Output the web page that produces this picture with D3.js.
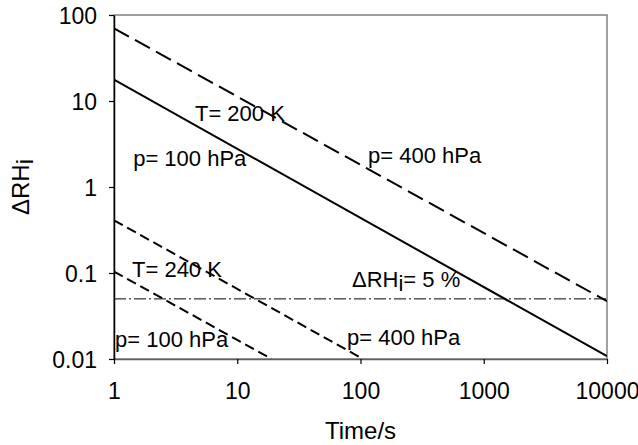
<!DOCTYPE html>
<html>
<head>
<meta charset="utf-8">
<script src="https://cdn.jsdelivr.net/npm/d3@7"></script>
<style>
  html, body { margin: 0; padding: 0; background: #fff; }
  svg { display: block; font-family: "Liberation Sans", Arial, sans-serif; }
</style>
</head>
<body>
<svg id="chart" width="638" height="445"></svg>
<script>
// ---- data ----
const xTicks = [1, 10, 100, 1000, 10000];
const xTickLabels = ["1", "10", "100", "1000", "10000"];
const yTicks = [0.01, 0.1, 1, 10, 100];
const yTickLabels = ["0.01", "0.1", "1", "10", "100"];

const timeT200P400 = [1, 10000];
const rhT200P400 = [70, 0.047];
const timeT200P100 = [1, 10000];
const rhT200P100 = [17.7, 0.0108];
const timeT240P400 = [1, 105];
const rhT240P400 = [0.41, 0.01];
const timeT240P100 = [1, 19];
const rhT240P100 = [0.104, 0.01];
const thresholdRH = 0.05;

const annotationTexts = ["T= 200 K", "p= 100 hPa", "p= 400 hPa", "T= 240 K", "p= 100 hPa", "p= 400 hPa"];
const annotationTimes = [4.54, 1.43, 115, 1.40, 1.02, 77.7];
const annotationRH = [5.85, 1.75, 1.90, 0.0898, 0.0138, 0.01455];
const thresholdLabelTime = 85.3;
const thresholdLabelRH = 0.0687;

// ---- layout ----
(function () {
const svg = d3.select("#chart");
const mLeft = 114, mRight = 607, mTop = 15, mBottom = 359;
const x = d3.scaleLog().domain([1, 10000]).range([mLeft, mRight]);
const y = d3.scaleLog().domain([0.01, 100]).range([mBottom, mTop]);

svg.append("rect").attr("width", 638).attr("height", 445).attr("fill", "#fff");

svg.append("defs").append("clipPath").attr("id", "clip")
  .append("rect").attr("x", mLeft).attr("y", mTop).attr("width", mRight - mLeft).attr("height", mBottom - mTop);

// frame
svg.append("rect").attr("x", mLeft).attr("y", mTop).attr("width", mRight - mLeft).attr("height", mBottom - mTop)
  .attr("fill", "none").attr("stroke", "#808080").attr("stroke-width", 1.5);

// axes
const xAxis = d3.axisBottom(x).tickValues(xTicks)
  .tickFormat((d, i) => xTickLabels[i]).tickSizeInner(5).tickSizeOuter(0);
const gx = svg.append("g").attr("transform", `translate(0,${mBottom})`).call(xAxis);
gx.select(".domain").attr("stroke", "#606060").attr("stroke-width", 1.5);
gx.selectAll(".tick line").attr("stroke", "#000").attr("stroke-width", 1.2);
gx.selectAll(".tick text").attr("y", 40).attr("dy", 0)
  .style("font-size", "23px").attr("fill", "#000")
  .style("font-family", "'Liberation Sans', Arial, sans-serif");

const yAxis = d3.axisLeft(y).tickValues(yTicks)
  .tickFormat((d, i) => yTickLabels[i]).tickSizeInner(5).tickSizeOuter(0).tickPadding(12);
const gy = svg.append("g").attr("transform", `translate(${mLeft},0)`).call(yAxis);
gy.select(".domain").attr("stroke", "#000").attr("stroke-width", 1.5);
gy.selectAll(".tick line").attr("stroke", "#000").attr("stroke-width", 1.2);
gy.selectAll(".tick text").attr("dy", "0.36em")
  .style("font-size", "23px").attr("fill", "#000")
  .style("font-family", "'Liberation Sans', Arial, sans-serif");

// axis titles
svg.append("text").attr("x", (mLeft + mRight) / 2).attr("y", 439)
  .attr("text-anchor", "middle").style("font-size", "24px").text("Time/s");

const ylab = svg.append("text")
  .attr("transform", `translate(29,${(mTop + mBottom) / 2}) rotate(-90)`)
  .attr("text-anchor", "middle").style("font-size", "24px");
ylab.append("tspan").text("\u0394RH");
ylab.append("tspan").attr("dy", 4).text("i");

// lines
const line = d3.line().x(d => x(d[0])).y(d => y(d[1]));
const plot = svg.append("g").attr("clip-path", "url(#clip)");

const seriesList = [
  { t: timeT200P400, v: rhT200P400, dash: "17,7", w: 2 },
  { t: timeT200P100, v: rhT200P100, dash: null, w: 2 },
  { t: timeT240P400, v: rhT240P400, dash: "10,5", w: 2 },
  { t: timeT240P100, v: rhT240P100, dash: "10,5", w: 2 }
];
seriesList.forEach(s => {
  plot.append("path")
    .datum(s.t.map((t, i) => [t, s.v[i]]))
    .attr("d", line)
    .attr("fill", "none")
    .attr("stroke", "#000")
    .attr("stroke-width", s.w)
    .attr("stroke-dasharray", s.dash);
});

// threshold line
plot.append("path")
  .datum([[1, thresholdRH], [10000, thresholdRH]])
  .attr("d", line)
  .attr("fill", "none").attr("stroke", "#000").attr("stroke-width", 1)
  .attr("stroke-dasharray", "12,3,2,3");

// annotations
annotationTexts.forEach((txt, i) => {
  svg.append("text")
    .attr("x", x(annotationTimes[i])).attr("y", y(annotationRH[i]))
    .style("font-size", "22px").attr("fill", "#000").text(txt);
});
const th = svg.append("text")
  .attr("x", x(thresholdLabelTime)).attr("y", y(thresholdLabelRH))
  .style("font-size", "22px").attr("fill", "#000");
th.append("tspan").text("\u0394RH");
th.append("tspan").attr("dy", 4).text("i");
th.append("tspan").attr("dy", -4).text("= 5 %");
})();
</script>
</body>
</html>
